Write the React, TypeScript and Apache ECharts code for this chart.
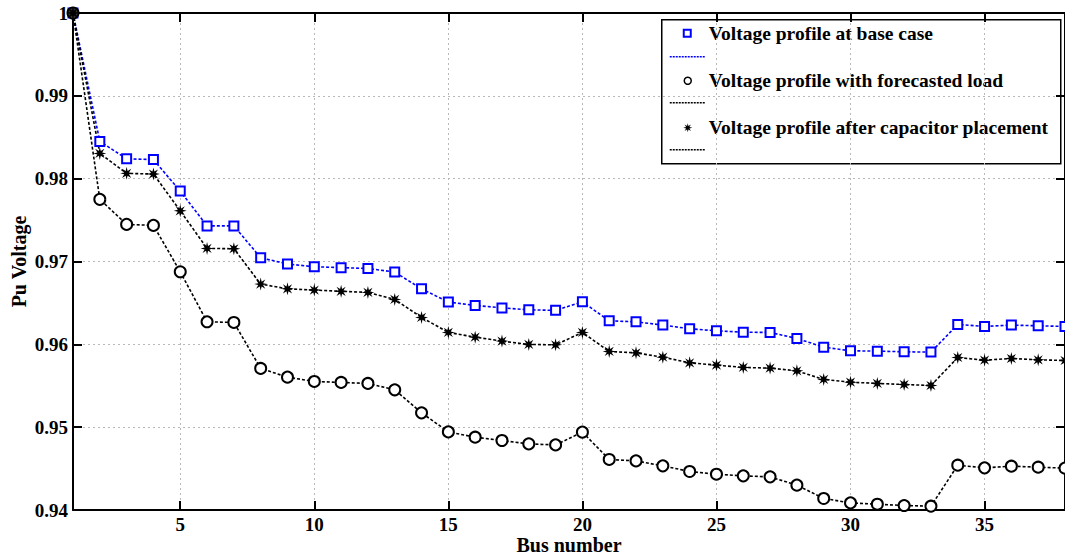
import React, { useEffect, useRef } from "react";
import * as echarts from "echarts";

const busNumbers = [1,2,3,4,5,6,7,8,9,10,11,12,13,14,15,16,17,18,19,20,21,22,23,24,25,26,27,28,29,30,31,32,33,34,35,36,37,38];

const baseCase = [1.0,0.9845,0.9824,0.9823,0.9785,0.9743,0.9743,0.97045,0.9697,0.96937,0.96926,0.96916,0.96872,0.9667,0.9651,0.9647,0.9644,0.96417,0.9641,0.96513,0.96284,0.96272,0.96232,0.96188,0.96163,0.96147,0.96143,0.96071,0.95966,0.95922,0.95918,0.9591,0.95906,0.9624,0.96216,0.96232,0.96224,0.96216];

const forecastedLoad = [1.0,0.9775,0.97448,0.97436,0.96876,0.96272,0.96264,0.95709,0.95604,0.95552,0.9554,0.95528,0.95451,0.95173,0.94943,0.94879,0.94839,0.94798,0.94786,0.9494,0.9461,0.94593,0.94533,0.94465,0.94432,0.94412,0.944,0.943,0.94139,0.94086,0.9407,0.94054,0.94046,0.94541,0.94509,0.94529,0.94517,0.94505];

const afterCapacitor = [1.0,0.98305,0.98064,0.98056,0.97612,0.97158,0.97154,0.96727,0.9667,0.96655,0.9664,0.96627,0.96542,0.96325,0.96144,0.96087,0.96039,0.95999,0.95994,0.96144,0.95914,0.95897,0.95845,0.95777,0.95749,0.95721,0.95713,0.9568,0.95576,0.95543,0.95528,0.95515,0.95503,0.95841,0.95809,0.95829,0.95813,0.95805];

const xTickValues = [5, 10, 15, 20, 25, 30, 35];
const legendLabels = [
  "Voltage profile at base case",
  "Voltage profile with forecasted load",
  "Voltage profile after capacitor placement",
];
const commonPoint = [[1, 1.0]];

const FONT = "'Liberation Serif', 'Times New Roman', serif";
const STAR = "path://M20 10 L13.7 11.5 L17.07 17.07 L11.5 13.7 L10 20 L8.5 13.7 L2.93 17.07 L6.3 11.5 L0 10 L6.3 8.5 L2.93 2.93 L8.5 6.3 L10 0 L11.5 6.3 L17.07 2.93 L13.7 8.5 Z";

function starPoints(cx: number, cy: number, ro: number, ri: number) {
  const pts: number[][] = [];
  for (let k = 0; k < 16; k++) {
    const a = (k * 22.5 * Math.PI) / 180;
    const r = k % 2 === 0 ? ro : ri;
    pts.push([cx + r * Math.cos(a), cy + r * Math.sin(a)]);
  }
  return pts;
}

export default function App() {
  const ref = useRef<HTMLDivElement>(null);
  useEffect(() => {
    if (!ref.current) return;
    const chart = echarts.init(ref.current, null, { renderer: "svg" });
    const mk = (ys: number[]) => busNumbers.map((x, i) => [x, ys[i]]);
    const labelStyle = { color: "#000", fontFamily: FONT, fontWeight: "bold" as const, fontSize: 19 };
    const nameStyle = { color: "#000", fontFamily: FONT, fontWeight: "bold" as const, fontSize: 20 };
    const grid = { show: true, lineStyle: { color: "#b8b8b8", type: [2, 3], width: 1 } };
    const lx = 661, ly = 19;
    const lf = `bold 19.5px ${FONT}`;
    chart.setOption({
      animation: false,
      backgroundColor: "#fff",
      grid: { left: 73, right: 0, top: 13, bottom: 50, containLabel: false, outerBoundsMode: "none" },
      xAxis: [
        {
          type: "value", min: 1, max: 38,
          axisLine: { show: true, lineStyle: { color: "#000", width: 2 } },
          axisTick: { show: true, inside: true, length: 9, lineStyle: { color: "#000", width: 2 }, customValues: xTickValues },
          axisLabel: { ...labelStyle, margin: 5, customValues: xTickValues },
          splitLine: grid,
          name: "Bus number", nameLocation: "middle", nameGap: 25, nameMoveOverlap: false,
          nameTextStyle: { ...nameStyle },
        },
        {
          type: "value", min: 1, max: 38, position: "top",
          axisLine: { show: true, onZero: false, lineStyle: { color: "#000", width: 2 } },
          axisTick: { show: true, inside: true, length: 9, lineStyle: { color: "#000", width: 2 }, customValues: xTickValues },
          axisLabel: { show: false },
          splitLine: { show: false },
        },
      ],
      yAxis: [
        {
          type: "value", min: 0.94, max: 1.0, interval: 0.01,
          axisLine: { show: true, lineStyle: { color: "#000", width: 2 } },
          axisTick: { show: true, inside: true, length: 9, lineStyle: { color: "#000", width: 2 } },
          axisLabel: { ...labelStyle, margin: 5, formatter: (v: number) => String(parseFloat(v.toFixed(2))) },
          splitLine: grid,
          name: "Pu Voltage", nameLocation: "middle", nameGap: 44, nameMoveOverlap: false,
          nameTextStyle: { ...nameStyle },
        },
        {
          type: "value", min: 0.94, max: 1.0, interval: 0.01, position: "right",
          axisLine: { show: true, onZero: false, lineStyle: { color: "#000", width: 2 } },
          axisTick: { show: true, inside: true, length: 9, lineStyle: { color: "#000", width: 2 } },
          axisLabel: { show: false },
          splitLine: { show: false },
        },
      ],
      series: [
        {
          name: legendLabels[0], type: "line", data: mk(baseCase), clip: false,
          symbol: "emptyRect", symbolSize: 9,
          lineStyle: { color: "#0000ff", width: 1.6, type: [3, 2] },
          itemStyle: { color: "#0000ff", borderWidth: 2 },
        },
        {
          name: legendLabels[1], type: "line", data: mk(forecastedLoad), clip: false,
          symbol: "emptyCircle", symbolSize: 11,
          lineStyle: { color: "#000", width: 1.6, type: [3, 2] },
          itemStyle: { color: "#000", borderWidth: 1.6 },
        },
        {
          name: legendLabels[2], type: "line", data: mk(afterCapacitor), clip: false,
          symbol: STAR, symbolSize: 13,
          lineStyle: { color: "#000", width: 1.6, type: [3, 2] },
          itemStyle: { color: "#000" },
        },
        {
          type: "scatter", data: commonPoint, symbol: "circle", symbolSize: 10, clip: false,
          itemStyle: { color: "#000" }, z: 5,
        },
      ],
      graphic: [
        {
          type: "group", left: lx, top: ly, children: [
            { type: "rect", shape: { x: 0, y: 0, width: 399, height: 144 }, style: { fill: "#fff", stroke: "#000", lineWidth: 1.5 } },
            { type: "rect", shape: { x: 22, y: 10, width: 7, height: 7 }, style: { fill: "none", stroke: "#0000ff", lineWidth: 2 } },
            { type: "line", shape: { x1: 8, y1: 37, x2: 44, y2: 37 }, style: { stroke: "#0000ff", lineWidth: 1.5, lineDash: [2, 1] } },
            { type: "text", x: 47, y: 14, style: { text: legendLabels[0], fill: "#000", font: lf, verticalAlign: "middle" } },
            { type: "circle", shape: { cx: 26, cy: 61, r: 3.5 }, style: { fill: "none", stroke: "#000", lineWidth: 1.5 } },
            { type: "line", shape: { x1: 8, y1: 83, x2: 44, y2: 83 }, style: { stroke: "#000", lineWidth: 1.5, lineDash: [2, 1] } },
            { type: "text", x: 47, y: 61, style: { text: legendLabels[1], fill: "#000", font: lf, verticalAlign: "middle" } },
            { type: "polygon", shape: { points: starPoints(26, 108, 4.5, 1.8) }, style: { fill: "#000" } },
            { type: "line", shape: { x1: 8, y1: 130, x2: 44, y2: 130 }, style: { stroke: "#000", lineWidth: 1.5, lineDash: [2, 1] } },
            { type: "text", x: 47, y: 108, style: { text: legendLabels[2], fill: "#000", font: lf, verticalAlign: "middle" } },
          ],
        },
      ],
    });
    return () => chart.dispose();
  }, []);
  return <div ref={ref} style={{ position: "fixed", left: 0, top: 0, width: 1065, height: 560 }} />;
}
